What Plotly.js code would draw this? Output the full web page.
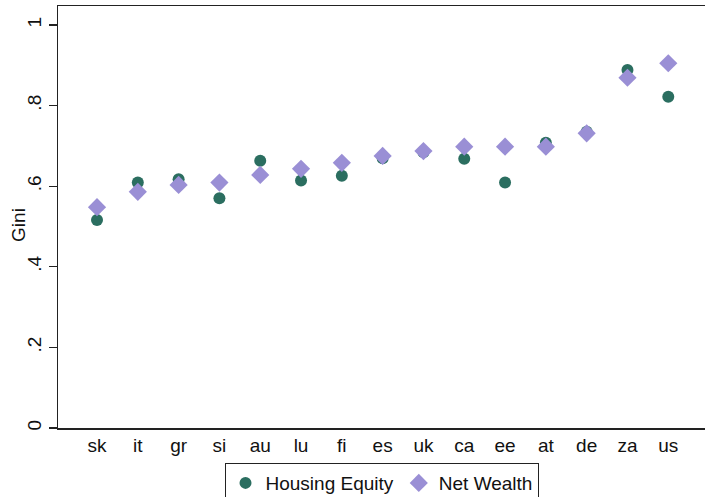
<!DOCTYPE html>
<html>
<head>
<meta charset="utf-8">
<script src="https://cdn.plot.ly/plotly-3.0.1.min.js"></script>
<style>html,body{margin:0;padding:0;background:#fff}#chart{width:705px;height:497px}</style>
</head>
<body>
<div id="chart"></div>
<script>
const countries = ["sk","it","gr","si","au","lu","fi","es","uk","ca","ee","at","de","za","us"];
const housingEquity = [0.516,0.609,0.617,0.570,0.663,0.614,0.626,0.669,0.684,0.668,0.609,0.708,0.735,0.888,0.822];
const netWealth = [0.548,0.586,0.603,0.609,0.628,0.643,0.658,0.675,0.687,0.698,0.698,0.698,0.731,0.869,0.905];
const yTickVals = [0,0.2,0.4,0.6,0.8,1];
const yTickText = ["0",".2",".4",".6",".8","1"];

const xIdx = countries.map((c,i)=>i);
const traces = [
  {x:xIdx, y:housingEquity, type:"scatter", mode:"markers", name:"Housing Equity",
   marker:{symbol:"circle", size:12, color:"#2b6e60"}},
  {x:xIdx, y:netWealth, type:"scatter", mode:"markers", name:"Net Wealth",
   marker:{symbol:"diamond", size:14, color:"#9a8fd5"}}
];
const font = {family:"Liberation Sans, Arial, sans-serif", size:19, color:"#111"};
const layout = {
  width:705, height:497,
  margin:{l:58, r:0, t:6, b:69, autoexpand:false},
  paper_bgcolor:"#fff", plot_bgcolor:"#fff",
  font:font,
  showlegend:true,
  xaxis:{range:[-0.956,14.9], tickvals:xIdx, ticktext:countries, showgrid:false, zeroline:false,
    showline:true, mirror:true, linecolor:"#222", linewidth:1.5, ticks:"", tickfont:font, fixedrange:true},
  yaxis:{range:[0,1.047], tickvals:yTickVals, ticktext:yTickText, showgrid:false, zeroline:false,
    showline:true, linecolor:"#222", linewidth:1.5, ticks:"outside", ticklen:8, tickcolor:"#222", tickwidth:1.2,
    tickangle:-90, tickfont:font},
  annotations:[{text:"Gini", xref:"paper", yref:"paper", x:-0.062, y:0.481, xanchor:"center", yanchor:"middle",
    textangle:-90, showarrow:false, font:font}],
  legend:{orientation:"h", x:0.5, xanchor:"center", y:-0.083, yanchor:"top",
    bordercolor:"#222", borderwidth:1, font:font, itemwidth:30, tracegroupgap:0}
};
Plotly.newPlot("chart", traces, layout, {displayModeBar:false, staticPlot:true});
</script>
</body>
</html>
